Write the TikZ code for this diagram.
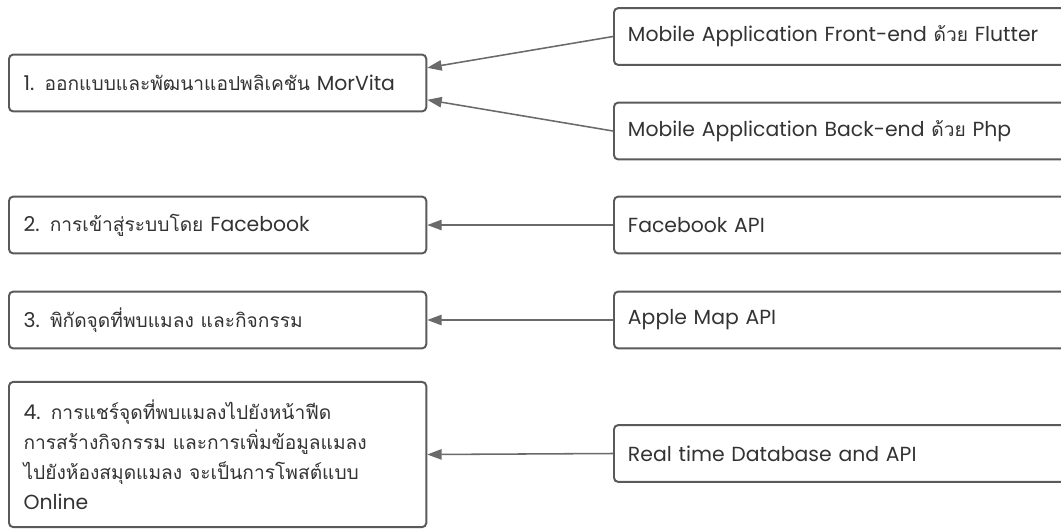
\documentclass[tikz,border=0pt]{standalone}
\usepackage{fontspec}
\setmainfont{Poppins}
\newfontfamily\thaifont[Script=Thai,Scale=0.94]{Loma}
\newcommand{\thai}[1]{{\thaifont #1}}
\usetikzlibrary{arrows.meta}
\definecolor{boxgray}{HTML}{5A5A5A}
\definecolor{linkgray}{HTML}{6A6A6A}
\definecolor{textgray}{HTML}{333333}

\tikzset{
  box/.style={draw=boxgray, line width=1.4pt, rounded corners=3pt, fill=white,
    minimum height=1.42cm, inner xsep=0.33cm, anchor=west, align=left,
    text=textgray, font=\fontsize{14.5}{21.3}\selectfont},
  taskbox/.style={box, minimum width=10.43cm, text width=9.7cm},
  toolbox/.style={box, minimum width=12cm, text width=11.3cm},
  link/.style={draw=linkgray, line width=1.1pt, -{Triangle[length=0.36cm,width=0.26cm]}}
}

\begin{document}
\begin{tikzpicture}[x=0.025cm, y=-0.025cm]
\useasboundingbox (0,0) rectangle (1061,529);
\clip (0,0) rectangle (1061,529);

% งานที่ต้องทำ
\node[taskbox] (app) at (8,83) {1. \thai{ออกแบบและพัฒนาแอปพลิเคชัน} MorVita};
\node[taskbox] (login) at (8,225) {2. \thai{การเข้าสู่ระบบโดย} Facebook};
\node[taskbox] (locate) at (8,320) {3. \thai{พิกัดจุดที่พบแมลง และกิจกรรม}};
\node[taskbox, minimum height=3.63cm] (share) at (8,454.5)
  {4. \thai{การแชร์จุดที่พบแมลงไปยังหน้าฟีด}\\
   \thai{การสร้างกิจกรรม และการเพิ่มข้อมูลแมลง}\\
   \thai{ไปยังห้องสมุดแมลง จะเป็นการโพสต์แบบ}\\
   Online};

% เครื่องมือ
\node[toolbox] (front) at (613,36.5) {Mobile Application Front-end \thai{ด้วย} Flutter};
\node[toolbox] (back) at (613,131) {Mobile Application Back-end \thai{ด้วย} Php};
\node[toolbox] (fbapi) at (613,225) {Facebook API};
\node[toolbox] (mapapi) at (613,320) {Apple Map API};
\node[toolbox] (rtdb) at (613,453.5) {Real time Database and API};

\draw[link] (front.west) -- ([yshift=0.38cm]app.east);
\draw[link] (back.west) -- ([yshift=-0.42cm]app.east);
\foreach \a/\b in {fbapi/login, mapapi/locate, rtdb/share}
  \draw[link] (\a.west) -- (\b.east);
\end{tikzpicture}
\end{document}
